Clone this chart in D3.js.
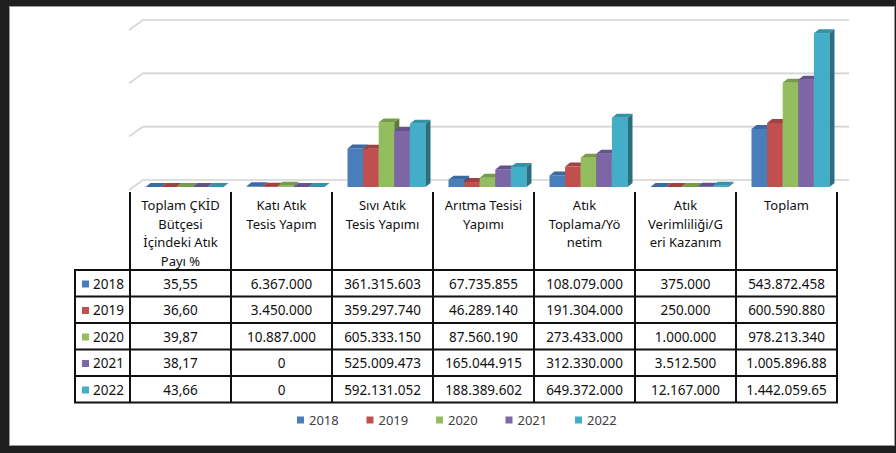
<!DOCTYPE html>
<html>
<head>
<meta charset="utf-8">
<script src="https://cdn.jsdelivr.net/npm/d3@7"></script>
<style>
  body { margin: 0; background: #fff; }
  svg text { font-family: "Noto Sans", "Open Sans", sans-serif; }
</style>
</head>
<body>
<div id="vizArea"></div>
<script>
// data
var categories = ["ckid", "kati", "sivi", "aritma", "toplama", "verim", "toplam"];
var categoryLines = [
  ["Toplam ÇKİD", "Bütçesi", "İçindeki Atık", "Payı %"],
  ["Katı Atık", "Tesis Yapım"],
  ["Sıvı Atık", "Tesis Yapımı"],
  ["Arıtma Tesisi", "Yapımı"],
  ["Atık", "Toplama/Yö", "netim"],
  ["Atık", "Verimliliği/G", "eri Kazanım"],
  ["Toplam"]
];
var years = ["2018", "2019", "2020", "2021", "2022"];
var colors = ["#4a7ebb", "#c0504d", "#93bd5e", "#7c66a5", "#43aec8"];
var topColors = ["#3c6aa2", "#a24240", "#779c48", "#64528c", "#3393aa"];
var sideColors = ["#2e5382", "#813533", "#5c7a37", "#4d3f6e", "#2a6f80"];

var v2018 = [35.55, 6367000, 361315603, 67735855, 108079000, 375000, 543872458];
var v2019 = [36.60, 3450000, 359297740, 46289140, 191304000, 250000, 600590880];
var v2020 = [39.87, 10887000, 605333150, 87560190, 273433000, 1000000, 978213340];
var v2021 = [38.17, 0, 525009473, 165044915, 312330000, 3512500, 1005896880];
var v2022 = [43.66, 0, 592131052, 188389602, 649372000, 12167000, 1442059650];
var series = [v2018, v2019, v2020, v2021, v2022];

// table cell text as printed
var t2018 = ["35,55", "6.367.000", "361.315.603", "67.735.855", "108.079.000", "375.000", "543.872.458"];
var t2019 = ["36,60", "3.450.000", "359.297.740", "46.289.140", "191.304.000", "250.000", "600.590.880"];
var t2020 = ["39,87", "10.887.000", "605.333.150", "87.560.190", "273.433.000", "1.000.000", "978.213.340"];
var t2021 = ["38,17", "0", "525.009.473", "165.044.915", "312.330.000", "3.512.500", "1.005.896.88"];
var t2022 = ["43,66", "0", "592.131.052", "188.389.602", "649.372.000", "12.167.000", "1.442.059.65"];
var tableRows = [t2018, t2019, t2020, t2021, t2022];

var gridTicks = [0, 500000000, 1000000000, 1500000000];

var W = 896, H = 453;
var canvas = d3.select("#vizArea")
  .append("svg")
    .attr("width", W)
    .attr("height", H);

// frame
canvas.append("rect").attr("x", 0).attr("y", 0).attr("width", W).attr("height", H).attr("fill", "#1e1e1e");
canvas.append("rect").attr("x", 9).attr("y", 6).attr("width", 886).attr("height", 440).attr("fill", "#9a9a9a");
canvas.append("rect").attr("x", 10).attr("y", 7).attr("width", 884).attr("height", 438).attr("fill", "#fff");

// scales
var x = d3.scaleBand().domain(categories).range([130, 837]);
var xIn = d3.scaleBand().domain(years).range([15.5, 93.5]);
var y = d3.scaleLinear().domain([0, 1500000000]).range([187, 27]);

var wallDx = 14, wallDy = 10, wallShift = 7;
var dx = 5, dy = 4;

// gridlines on back wall + left side
var grid = canvas.append("g");
gridTicks.forEach(function (t) {
  var gy = y(t) - wallShift;
  grid.append("path")
    .attr("d", "M" + (129) + "," + (gy + wallDy) + "L" + (129 + wallDx) + "," + gy + "L849," + gy)
    .attr("fill", "none")
    .attr("stroke", "#d4d4d4")
    .attr("stroke-width", 1.6);
});

// bars
var bars = canvas.append("g");
categories.forEach(function (c, ci) {
  years.forEach(function (yr, i) {
    var v = series[i][ci];
    var x0 = x(c) + xIn(yr), w = xIn.bandwidth();
    var yt = y(v), yb = y(0);
    var g = bars.append("g");
    g.append("rect")
      .attr("x", x0).attr("y", yt)
      .attr("width", w).attr("height", yb - yt)
      .attr("fill", colors[i]);
    g.append("path")
      .attr("d", "M" + x0 + "," + yt + "L" + (x0 + dx) + "," + (yt - dy) + "L" + (x0 + w + dx) + "," + (yt - dy) + "L" + (x0 + w) + "," + yt + "Z")
      .attr("fill", topColors[i]);
    g.append("path")
      .attr("d", "M" + (x0 + w) + "," + yt + "L" + (x0 + w + dx) + "," + (yt - dy) + "L" + (x0 + w + dx) + "," + (yb - dy) + "L" + (x0 + w) + "," + yb + "Z")
      .attr("fill", sideColors[i]);
  });
});

// data table
var rowTop = 270, rowH = 26.5, headTop = 192;
var rowY = d3.range(years.length + 1).map(function (k) { return rowTop + k * rowH; });
var tbl = canvas.append("g");

categories.forEach(function (c, ci) {
  var cx = x(c) + x.bandwidth() / 2;
  categoryLines[ci].forEach(function (line, li) {
    tbl.append("text")
      .attr("x", cx).attr("y", 210 + li * 18.5)
      .attr("text-anchor", "middle")
      .attr("font-size", 13)
      .attr("fill", "#111")
      .text(line);
  });
  tableRows.forEach(function (row, ri) {
    tbl.append("text")
      .attr("x", cx).attr("y", rowY[ri] + 18.5)
      .attr("text-anchor", "middle")
      .attr("font-size", 13.5)
      .attr("fill", "#111")
      .text(row[ci]);
  });
});

years.forEach(function (yr, ri) {
  tbl.append("rect")
    .attr("x", 82).attr("y", rowY[ri] + 10.5)
    .attr("width", 7).attr("height", 7)
    .attr("fill", colors[ri]);
  tbl.append("text")
    .attr("x", 93).attr("y", rowY[ri] + 18.5)
    .attr("font-size", 13.5)
    .attr("fill", "#111")
    .text(yr);
});

// table lines
var bounds = [130].concat(categories.map(function (c) { return x(c) + x.bandwidth(); }));
bounds.forEach(function (bx) {
  tbl.append("line")
    .attr("x1", bx).attr("x2", bx)
    .attr("y1", headTop).attr("y2", rowY[rowY.length - 1])
    .attr("stroke", "#111").attr("stroke-width", 2);
});
tbl.append("line")
  .attr("x1", 75).attr("x2", 75)
  .attr("y1", rowTop).attr("y2", rowY[rowY.length - 1])
  .attr("stroke", "#111").attr("stroke-width", 2);
rowY.forEach(function (ry) {
  tbl.append("line")
    .attr("x1", 74).attr("x2", 838)
    .attr("y1", ry).attr("y2", ry)
    .attr("stroke", "#111").attr("stroke-width", 2);
});

// legend
var legendX = d3.scalePoint().domain(years).range([297, 575]);
var legend = canvas.append("g");
years.forEach(function (yr, i) {
  legend.append("rect")
    .attr("x", legendX(yr)).attr("y", 416.5)
    .attr("width", 7).attr("height", 7)
    .attr("fill", colors[i]);
  legend.append("text")
    .attr("x", legendX(yr) + 12).attr("y", 424.5)
    .attr("font-size", 13)
    .attr("fill", "#404040")
    .text(yr);
});
</script>
</body>
</html>
